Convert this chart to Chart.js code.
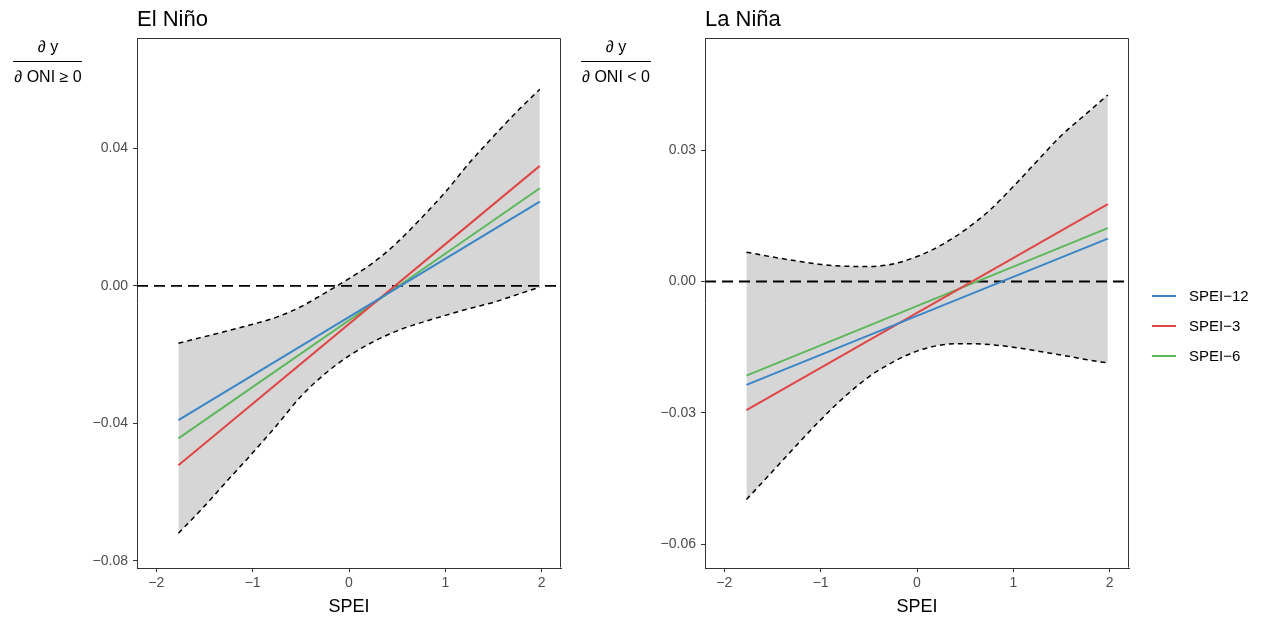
<!DOCTYPE html>
<html><head><meta charset="utf-8">
<script src="https://cdn.jsdelivr.net/npm/chart.js@4.4.1/dist/chart.umd.min.js"></script>
<style>
html,body{margin:0;padding:0;background:#fff;width:1262px;height:617px;overflow:hidden}
#c1{position:absolute;left:0;top:0}
#c2{position:absolute;left:570px;top:0}
</style></head><body>
<canvas id="c1" width="570" height="617"></canvas>
<canvas id="c2" width="692" height="617"></canvas>
<script>
// ---- data ----
const seriesNames = ['SPEI−12', 'SPEI−3', 'SPEI−6'];
const seriesColors = ['#3A86C8', '#E04646', '#5DB85B'];
const lineX = [-1.77, 1.98];

const ninoSpei12 = [-0.0391, 0.0245];
const ninoSpei3  = [-0.0522, 0.0349];
const ninoSpei6  = [-0.0444, 0.0284];

const ciX = [-1.77, -1.5, -1.25, -1, -0.75, -0.5, -0.25, 0, 0.25, 0.5, 0.75, 1, 1.25, 1.5, 1.75, 1.98];
const ninoUpper = [-0.0167, -0.0148, -0.0130, -0.0112, -0.0091, -0.0061, -0.0021, 0.0021, 0.0067, 0.0126, 0.0197, 0.0273, 0.0358, 0.0435, 0.0509, 0.0572];
const ninoLower = [-0.0720, -0.0641, -0.0563, -0.0486, -0.0406, -0.0322, -0.0256, -0.0204, -0.0163, -0.0131, -0.0107, -0.0086, -0.0066, -0.0048, -0.0025, -0.0004];

const ninaSpei12 = [-0.0236, 0.0098];
const ninaSpei3  = [-0.0294, 0.0177];
const ninaSpei6  = [-0.0215, 0.0122];
const ninaUpper = [0.0067, 0.0056, 0.0047, 0.0039, 0.0035, 0.0034, 0.0040, 0.0057, 0.0083, 0.0118, 0.0162, 0.0217, 0.0276, 0.0334, 0.0382, 0.0426];
const ninaLower = [-0.0498, -0.0434, -0.0374, -0.0316, -0.0263, -0.0218, -0.0184, -0.0159, -0.0145, -0.0142, -0.0144, -0.0150, -0.0159, -0.0168, -0.0178, -0.0186];

const xTicks = [-2, -1, 0, 1, 2];
const xTickLabels = ['−2', '−1', '0', '1', '2'];
const ninoYTicks = [-0.08, -0.04, 0, 0.04];
const ninoYTickLabels = ['−0.08', '−0.04', '0.00', '0.04'];
const ninaYTicks = [-0.06, -0.03, 0, 0.03];
const ninaYTickLabels = ['−0.06', '−0.03', '0.00', '0.03'];

const xLimits = [-2.2, 2.2];
const ninoYLimits = [-0.0821, 0.0721];
const ninaYLimits = [-0.06544, 0.05562];

// ---- drawing ----
const FONT = '"Liberation Sans", Arial, Helvetica, sans-serif';
const AXIS = '#333333';
const TICKTXT = '#4D4D4D';

function pts(xs, ys) { return xs.map((x, i) => ({ x: x, y: ys[i] })); }

function textPlugin(o) {
  return {
    id: 'texts',
    afterDraw(chart) {
      const ctx = chart.ctx, a = chart.chartArea;
      ctx.save();
      ctx.strokeStyle = AXIS; ctx.lineWidth = 1;
      const L = Math.round(a.left) + 0.5, R = Math.round(a.right) - 0.5, T = Math.round(a.top) + 0.5, B = Math.round(a.bottom) - 0.5;
      ctx.beginPath(); ctx.moveTo(L, T); ctx.lineTo(R, T); ctx.lineTo(R, B); ctx.stroke();
      ctx.fillStyle = '#000';
      ctx.font = '22px ' + FONT;
      ctx.textAlign = 'left'; ctx.textBaseline = 'alphabetic';
      ctx.fillText(o.title, a.left, 26);
      ctx.font = '18px ' + FONT;
      ctx.textAlign = 'center';
      ctx.fillText('SPEI', (a.left + a.right) / 2, 612);
      ctx.font = '16px ' + FONT;
      ctx.fillText('∂ y', o.fracX, 52);
      ctx.fillText(o.denom, o.fracX, 82);
      const w = ctx.measureText(o.denom).width;
      ctx.fillRect(Math.round(o.fracX - w / 2 - 1), 61, Math.round(w + 2), 1);
      if (o.legend) {
        ctx.font = '15px ' + FONT;
        ctx.textAlign = 'left'; ctx.textBaseline = 'middle';
        seriesNames.forEach((n, i) => {
          const y = 296 + i * 30;
          ctx.strokeStyle = seriesColors[i]; ctx.lineWidth = 2;
          ctx.beginPath(); ctx.moveTo(o.legend.x, y); ctx.lineTo(o.legend.x + 24, y); ctx.stroke();
          ctx.fillStyle = '#000';
          ctx.fillText(n, o.legend.x + 37, y + 1);
        });
      }
      ctx.restore();
    }
  };
}

function makePanel(id, o) {
  const ds = [];
  ds.push({ data: pts(ciX, o.lower), borderColor: '#000', borderWidth: 1.5, borderDash: [5, 4], pointRadius: 0, fill: false, cubicInterpolationMode: 'monotone', order: 2 });
  ds.push({ data: pts(ciX, o.upper), borderColor: '#000', borderWidth: 1.5, borderDash: [5, 4], pointRadius: 0, fill: '-1', backgroundColor: '#D6D6D6', cubicInterpolationMode: 'monotone', order: 2 });
  ds.push({ data: pts(xLimits, [0, 0]), borderColor: '#000', borderWidth: 1.8, borderDash: [11, 6], pointRadius: 0, fill: false, order: 1 });
  o.series.forEach((s, i) => {
    ds.push({ label: seriesNames[i], data: pts(lineX, s), borderColor: seriesColors[i], borderWidth: 2, pointRadius: 0, fill: false, order: 0 });
  });
  return new Chart(document.getElementById(id), {
    type: 'line',
    data: { datasets: ds },
    options: {
      responsive: false, animation: false, devicePixelRatio: 1,
      layout: { padding: { top: 38, right: o.padRight, left: 0, bottom: 0 } },
      plugins: { legend: { display: false }, tooltip: { enabled: false }, filler: { drawTime: 'beforeDatasetsDraw' } },
      scales: {
        x: {
          type: 'linear', min: xLimits[0], max: xLimits[1],
          afterBuildTicks: s => { s.ticks = xTicks.map(v => ({ value: v })); },
          afterFit: s => { s.height = 49; },
          ticks: { autoSkip: false, maxRotation: 0, padding: 3, color: TICKTXT, font: { size: 14, family: FONT },
            callback: v => xTickLabels[xTicks.indexOf(v)] },
          grid: { display: true, drawOnChartArea: false, drawTicks: true, tickLength: 4, color: AXIS, lineWidth: 1 },
          border: { display: true, color: AXIS, width: 1 }
        },
        y: {
          type: 'linear', min: o.yLimits[0], max: o.yLimits[1],
          afterBuildTicks: s => { s.ticks = o.yTicks.map(v => ({ value: v })); },
          afterFit: s => { s.width = o.yWidth; },
          ticks: { autoSkip: false, padding: 5, color: TICKTXT, font: { size: 14, family: FONT },
            callback: v => o.yTickLabels[o.yTicks.indexOf(v)] },
          grid: { display: true, drawOnChartArea: false, drawTicks: true, tickLength: 4, color: AXIS, lineWidth: 1 },
          border: { display: true, color: AXIS, width: 1 }
        }
      }
    },
    plugins: [textPlugin(o)]
  });
}

makePanel('c1', {
  title: 'El Niño', denom: '∂ ONI ≥ 0', fracX: 48,
  lower: ninoLower, upper: ninoUpper, series: [ninoSpei12, ninoSpei3, ninoSpei6],
  yLimits: ninoYLimits, yTicks: ninoYTicks, yTickLabels: ninoYTickLabels,
  yWidth: 137, padRight: 9
});
makePanel('c2', {
  title: 'La Niña', denom: '∂ ONI < 0', fracX: 46,
  lower: ninaLower, upper: ninaUpper, series: [ninaSpei12, ninaSpei3, ninaSpei6],
  yLimits: ninaYLimits, yTicks: ninaYTicks, yTickLabels: ninaYTickLabels,
  yWidth: 135, padRight: 133, legend: { x: 582 }
});
</script>
</body></html>
